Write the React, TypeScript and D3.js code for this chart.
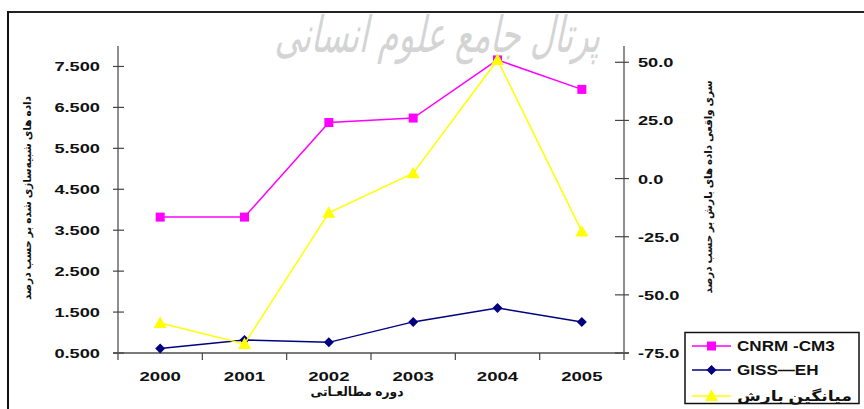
import React from 'react';
import * as d3 from 'd3';

const years = ['2000', '2001', '2002', '2003', '2004', '2005'];
const cnrm = [3.82, 3.82, 6.13, 6.24, 7.66, 6.94];
const giss = [0.61, 0.82, 0.76, 1.26, 1.6, 1.26];
const precip = [-62.1, -71.1, -14.7, 2.3, 51.0, -22.8];
const leftTicks = [0.5, 1.5, 2.5, 3.5, 4.5, 5.5, 6.5, 7.5];
const rightTicks = [-75, -50, -25, 0, 25, 50];
const legendNames = ['CNRM -CM3', 'GISS\u2014EH', 'میانگین بارش'];
const leftTitle = 'داده های شبیه‌سازی شده بر حسب درصد';
const rightTitle = 'سری واقعی داده های بارش بر حسب درصد';
const xTitle = 'دوره مطالعـاتی';
const watermark = 'پرتال جامع علوم انسانی';

const W = 864, H = 409;
const L = 118, R = 624, T = 46, B = 353;
const FONT = 'Arial, "Liberation Sans", "DejaVu Sans", sans-serif';

function SText(p: { x: number; y: number; anchor?: string; sx?: number; size: number; weight?: string; fill?: string; rotate?: number; children: any; len?: number }) {
  const t = `translate(${p.x},${p.y})${p.rotate ? ` rotate(${p.rotate})` : ''} scale(${p.sx ?? 1},1)`;
  return (
    <text transform={t} textAnchor={p.anchor ?? 'start'} fontSize={p.size} fontWeight={p.weight ?? 'bold'}
      fill={p.fill ?? '#111'} fontFamily={FONT}
      {...(p.len ? { textLength: p.len, lengthAdjust: 'spacingAndGlyphs' } : {})}>
      {p.children}
    </text>
  );
}

function Marker({ kind, x, y }: { kind: string; x: number; y: number }) {
  if (kind === 'square') return <rect x={x - 4.5} y={y - 4.5} width={9} height={9} fill="#FF00FF" />;
  if (kind === 'diamond') return <path d={`M${x},${y - 5}L${x + 5},${y}L${x},${y + 5}L${x - 5},${y}Z`} fill="#000080" />;
  return <path d={`M${x},${y - 6.5}L${x + 6.5},${y + 5}L${x - 6.5},${y + 5}Z`} fill="#FFFF00" />;
}

export default function App() {
  const xb = d3.scaleBand().domain(years).range([L, R]).padding(0);
  const cx = (y: string) => (xb(y) as number) + xb.bandwidth() / 2;
  const yL = d3.scaleLinear().domain([0.5, 8.0]).range([B, T]);
  const yR = d3.scaleLinear().domain([-75, 57]).range([B, T]);

  const series = [
    { vals: cnrm, scale: yL, color: '#FF00FF', kind: 'square' },
    { vals: giss, scale: yL, color: '#000080', kind: 'diamond' },
    { vals: precip, scale: yR, color: '#FFFF00', kind: 'triangle' },
  ];
  const line = (vals: number[], s: d3.ScaleLinear<number, number>) =>
    d3.line<number>().x((_, i) => cx(years[i])).y((v) => s(v))(vals) as string;

  const xTickPos = [...years.map((y) => xb(y) as number), R];

  return (
    <svg width={W} height={H} style={{ position: 'fixed', left: 0, top: 0, background: '#fff' }}>
      <rect width={W} height={H} fill="#fff" />
      {/* watermark */}
      <g transform="translate(437,52) skewX(-12)">
        <text textAnchor="middle" fontSize={50} fill="#d4d4d4" fontFamily='"DejaVu Sans", sans-serif'
          textLength={325} lengthAdjust="spacingAndGlyphs">{watermark}</text>
      </g>
      {/* outer frame */}
      <line x1={8} y1={12} x2={W} y2={12} stroke="#222" strokeWidth={2} />
      <line x1={8} y1={11} x2={8} y2={H} stroke="#111" strokeWidth={2} />

      {/* axes */}
      <line x1={L} y1={T} x2={L} y2={B} stroke="#444" strokeWidth={1.2} />
      <line x1={R} y1={T} x2={R} y2={B} stroke="#444" strokeWidth={1.2} />
      <line x1={113} y1={B} x2={629} y2={B} stroke="#7a7a7a" strokeWidth={2} />
      {leftTicks.map((t) => (
        <g key={'l' + t}>
          <line x1={113} x2={124} y1={yL(t)} y2={yL(t)} stroke="#444" strokeWidth={1.2} />
          <SText x={100} y={yL(t) + 5} anchor="end" size={13.5} sx={1.35}>{t.toFixed(3)}</SText>
        </g>
      ))}
      {rightTicks.map((t) => (
        <g key={'r' + t}>
          <line x1={615} x2={629} y1={yR(t)} y2={yR(t)} stroke="#444" strokeWidth={1.2} />
          <SText x={638} y={yR(t) + 5} anchor="start" size={13.5} sx={1.35}>{t.toFixed(1)}</SText>
        </g>
      ))}
      {xTickPos.map((x, i) => (
        <line key={'xt' + i} x1={x} x2={x} y1={B} y2={B + 7} stroke="#444" strokeWidth={1.2} />
      ))}
      {years.map((y) => (
        <SText key={'xl' + y} x={cx(y)} y={380.5} anchor="middle" size={13.5} sx={1.38}>{y}</SText>
      ))}

      {/* axis titles */}
      <SText x={31} y={198} rotate={-90} anchor="middle" size={11} len={204}>{leftTitle}</SText>
      <SText x={712} y={187} rotate={-90} anchor="middle" size={11} len={213}>{rightTitle}</SText>
      <SText x={357} y={396} anchor="middle" size={12.5} len={93}>{xTitle}</SText>

      {/* series */}
      {series.map((s, k) => (
        <g key={'s' + k}>
          <path d={line(s.vals, s.scale)} fill="none" stroke={s.color} strokeWidth={1.5} />
          {s.vals.map((v, i) => <Marker key={i} kind={s.kind} x={cx(years[i])} y={s.scale(v)} />)}
        </g>
      ))}

      {/* legend */}
      <rect x={685} y={332.5} width={174} height={71} fill="#fff" stroke="#111" strokeWidth={1.5} />
      {series.map((s, k) => {
        const ly = [346, 370, 396][k];
        return (
          <g key={'lg' + k}>
            <line x1={692} x2={731} y1={ly} y2={ly} stroke={s.color} strokeWidth={1.5} />
            <Marker kind={s.kind} x={711.5} y={ly} />
            <SText x={737} y={ly + 5} size={14} sx={k === 2 ? 1 : 1.22} len={k === 2 ? 115 : undefined}>{legendNames[k]}</SText>
          </g>
        );
      })}
    </svg>
  );
}
